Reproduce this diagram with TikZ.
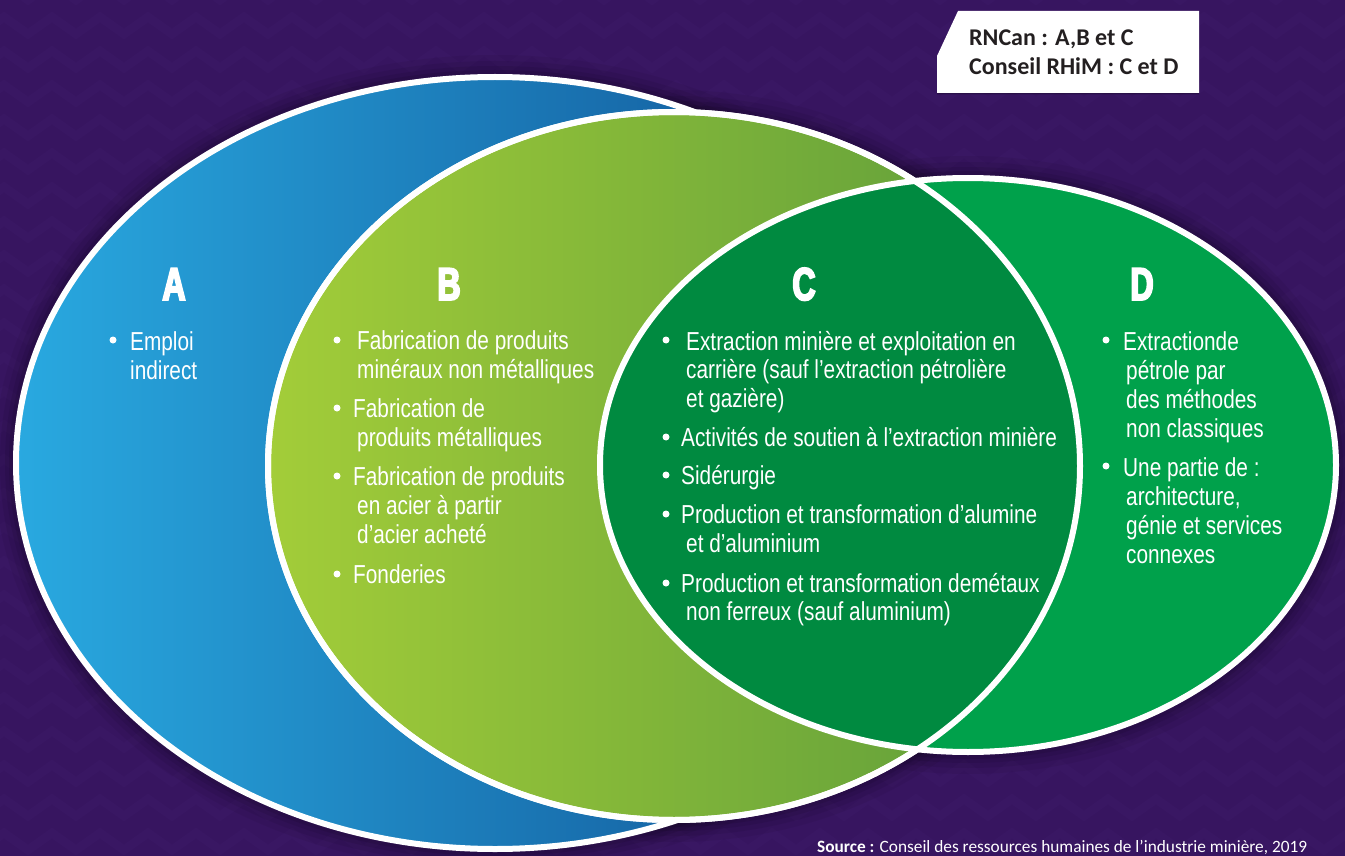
\documentclass[tikz,border=0pt]{standalone}
\usepackage{fontspec}
\setmainfont{Liberation Sans}[FakeStretch=0.8]
\newfontfamily\letterfont{Liberation Sans Bold}[FakeStretch=0.7, FakeBold=4]
\newfontfamily\notefont{Carlito}
\definecolor{bgpurple}{HTML}{371560}
\definecolor{chevron}{HTML}{391763}
\definecolor{aleft}{HTML}{29A9E0}
\definecolor{aright}{HTML}{0E4A8E}
\definecolor{bleft}{HTML}{A3CD39}
\definecolor{bright}{HTML}{5A9A3A}
\definecolor{lensgreen}{HTML}{008A40}
\definecolor{dgreen}{HTML}{00A14B}
\definecolor{notetext}{HTML}{231F20}
\tikzset{
  ring/.style={draw=white, line width=6pt},
  txt/.style={text=white, font=\fontsize{26}{29}\selectfont, anchor=base west, inner sep=0pt},
  dot/.style={circle, fill=white, inner sep=0pt, minimum size=7pt},
  letter/.style={text=white, font=\letterfont\fontsize{46}{46}\selectfont, anchor=base, inner sep=0pt},
  notebox/.style={text=notetext, font=\notefont\bfseries\fontsize{24}{24}\selectfont, anchor=base west, inner sep=0pt},
  srctxt/.style={text=white, font=\notefont\fontsize{17.3}{18}\selectfont, anchor=base west, inner sep=0pt},
  chev/.style={draw=chevron, line width=9pt, line join=miter},
}
\begin{document}
\begin{tikzpicture}[x=1pt,y=-1pt]
\useasboundingbox (0,0) rectangle (1345,856);
% background with faint chevrons
\fill[bgpurple] (0,0) rectangle (1345,856);
\begin{scope}
  \clip (0,0) rectangle (1345,856);
  \foreach \r in {0,...,27} {
    \draw[chev] (-20,{\r*34}) \foreach \c in {0,...,28} {
      -- ({-20+\c*48+24},{\r*34-17}) -- ({-20+(\c+1)*48},{\r*34})};
  }
\end{scope}
% soft shadow around the three ellipses
\foreach \w/\o in {44/0.05, 32/0.06, 22/0.07, 14/0.08} {
  \draw[black, opacity=\o, line width=\w pt] (495,463) ellipse [x radius=479pt, y radius=386pt];
  \draw[black, opacity=\o, line width=\w pt] (674,466) ellipse [x radius=406pt, y radius=354pt];
  \draw[black, opacity=\o, line width=\w pt] (968,465) ellipse [x radius=368pt, y radius=287pt];
}
% A
\shade[left color=aleft, right color=aright] (495,463) ellipse [x radius=479pt, y radius=386pt];
\draw[ring] (495,463) ellipse [x radius=479pt, y radius=386pt];
% B
\shade[left color=bleft, right color=bright] (674,466) ellipse [x radius=406pt, y radius=354pt];
\draw[ring] (674,466) ellipse [x radius=406pt, y radius=354pt];
% D
\fill[dgreen] (968,465) ellipse [x radius=368pt, y radius=287pt];
% C: overlap of B and D
\begin{scope}
  \clip (674,466) ellipse [x radius=406pt, y radius=354pt];
  \fill[lensgreen] (968,465) ellipse [x radius=368pt, y radius=287pt];
\end{scope}
\draw[ring] (674,466) ellipse [x radius=406pt, y radius=354pt];
\draw[ring] (968,465) ellipse [x radius=368pt, y radius=287pt];

% zone letters
\node[letter] (la) at (174,300) {A};
\node[letter] (lb) at (449,300) {B};
\node[letter] (lc) at (804,300) {C};
\node[letter] (ld) at (1142,300) {D};

% A
\node[dot] (a1d) at (113,340) {};
\node[txt] (a1) at (130,350) {Emploi};
\node[txt] (a1b) at (130,379) {indirect};

% B
\node[dot] (b1d) at (337,340) {};
\node[txt] (b1) at (357,349) {Fabrication de produits};
\node[txt] (b1b) at (357,378) {minéraux non métalliques};
\node[dot] (b2d) at (337,408) {};
\node[txt] (b2) at (353,417) {Fabrication de};
\node[txt] (b2b) at (357,446) {produits métalliques};
\node[dot] (b3d) at (337,476) {};
\node[txt] (b3) at (353,485) {Fabrication de produits};
\node[txt] (b3b) at (357,514) {en acier à partir};
\node[txt] (b3c) at (357,543) {d’acier acheté};
\node[dot] (b4d) at (337,574) {};
\node[txt] (b4) at (353,583) {Fonderies};

% C
\node[dot] (c1d) at (666,340) {};
\node[txt] (c1) at (686,350) {Extraction minière et exploitation en};
\node[txt] (c1b) at (686,378) {carrière (sauf l’extraction pétrolière};
\node[txt] (c1c) at (686,407) {et gazière)};
\node[dot] (c2d) at (666,437) {};
\node[txt] (c2) at (681,446) {Activités de soutien à l’extraction minière};
\node[dot] (c3d) at (666,475) {};
\node[txt] (c3) at (681,484) {Sidérurgie};
\node[dot] (c4d) at (666,514) {};
\node[txt] (c4) at (681,523) {Production et transformation d’alumine};
\node[txt] (c4b) at (686,552) {et d’aluminium};
\node[dot] (c5d) at (666,583) {};
\node[txt] (c5) at (681,592) {Production et transformation demétaux};
\node[txt] (c5b) at (686,620) {non ferreux (sauf aluminium)};

% D
\node[dot] (d1d) at (1106,340) {};
\node[txt] (d1) at (1123,350) {Extractionde};
\node[txt] (d1b) at (1126,379) {pétrole par};
\node[txt] (d1c) at (1126,408) {des méthodes};
\node[txt] (d1e) at (1126,437) {non classiques};
\node[dot] (d2d) at (1106,466) {};
\node[txt] (d2) at (1123,476) {Une partie de :};
\node[txt] (d2b) at (1126,505) {architecture,};
\node[txt] (d2c) at (1126,534) {génie et services};
\node[txt] (d2e) at (1126,563) {connexes};

% note box with cut corner
\fill[black, opacity=0.25] (958,12) -- (1199,12) -- (1199,94.5) -- (937,94.5) -- (937,57) -- cycle;
\fill[white] (958,11) -- (1199,11) -- (1199,93) -- (937,93) -- (937,56) -- cycle;
\node[notebox] (n1) at (969,46) {RNCan : A,B et C};
\node[notebox] (n2) at (969,75) {Conseil RHiM : C et D};

% source line
\node[srctxt] (src) at (817,852) {\textbf{Source :} Conseil des ressources humaines de l’industrie minière, 2019};
\end{tikzpicture}
\end{document}
